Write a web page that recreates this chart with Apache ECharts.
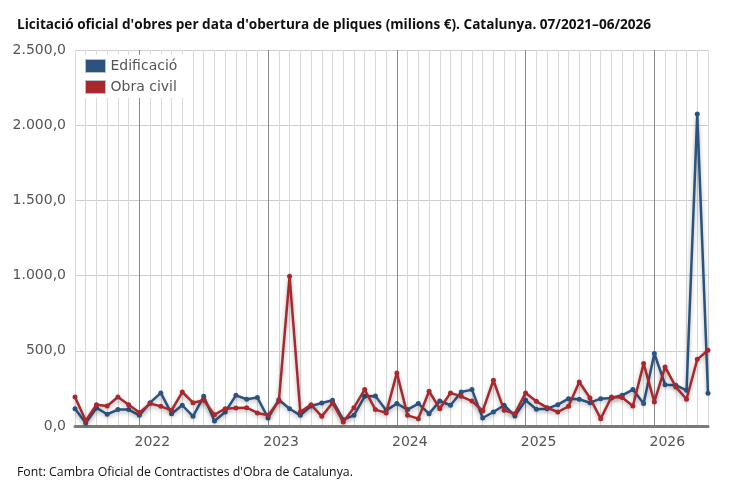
<!DOCTYPE html>
<html>
<head>
<meta charset="utf-8">
<script src="https://cdn.jsdelivr.net/npm/echarts@6/dist/echarts.min.js"></script>
<style>
  html, body { margin: 0; padding: 0; background: #fff; }
  #chart-container { width: 750px; height: 498px; }
</style>
</head>
<body>
<div id="chart-container"></div>
<script>
// mesos 07/2021 - 06/2026
const months = [
  "07/2021","08/2021","09/2021","10/2021","11/2021","12/2021",
  "01/2022","02/2022","03/2022","04/2022","05/2022","06/2022","07/2022","08/2022","09/2022","10/2022","11/2022","12/2022",
  "01/2023","02/2023","03/2023","04/2023","05/2023","06/2023","07/2023","08/2023","09/2023","10/2023","11/2023","12/2023",
  "01/2024","02/2024","03/2024","04/2024","05/2024","06/2024","07/2024","08/2024","09/2024","10/2024","11/2024","12/2024",
  "01/2025","02/2025","03/2025","04/2025","05/2025","06/2025","07/2025","08/2025","09/2025","10/2025","11/2025","12/2025",
  "01/2026","02/2026","03/2026","04/2026","05/2026","06/2026"
];

const edificacio = [
  115, 20, 120, 78, 109, 109,
  71, 155, 220, 82, 138, 64, 197, 33, 93, 204, 178, 189,
  53, 175, 115, 71, 133, 153, 171, 42, 71, 197, 200, 104,
  149, 109, 149, 82, 166, 138, 226, 242, 53, 93, 138, 67,
  171, 111, 115, 142, 182, 178, 155, 182, 186, 204, 242, 149,
  482, 275, 271, 237, 2075, 218
];

const obraCivil = [
  193, 35, 142, 133, 193, 142,
  89, 149, 131, 104, 226, 155, 171, 75, 115, 120, 122, 87,
  71, 164, 995, 93, 142, 64, 153, 27, 122, 242, 109, 87,
  353, 71, 49, 231, 115, 220, 197, 166, 100, 304, 104, 82,
  220, 164, 122, 93, 131, 293, 186, 49, 193, 189, 133, 415,
  160, 393, 260, 178, 443, 504
];

const yTicks = [0, 500, 1000, 1500, 2000, 2500];

const chart = echarts.init(document.getElementById("chart-container"));

function fmt(v) {
  // format català: 2.500,0
  const s = Math.round(v).toString().replace(/\B(?=(\d{3})+(?!\d))/g, ".");
  return s + ",0";
}

// línies verticals: gris clar cada mes, més fosc al gener
const monthColors = [];
for (let k = 0; k < 12; k++) monthColors.push(k === 6 ? "#8a8a8a" : "#d9d9d9");

const lineShadow = {
  shadowColor: "rgba(0,0,0,0.3)",
  shadowBlur: 4,
  shadowOffsetY: 2,
};

const option = {
  animation: false,
  backgroundColor: "#fff",
  title: [
    {
      text: "Licitació oficial d'obres per data d'obertura de pliques (milions €). Catalunya. 07/2021–06/2026",
      left: 12,
      top: 13,
      textStyle: { fontFamily: "Open Sans", fontWeight: "bold", fontSize: 13.6, color: "#111" },
    },
    {
      text: "Font: Cambra Oficial de Contractistes d'Obra de Catalunya.",
      left: 12,
      top: 461,
      textStyle: { fontFamily: "Open Sans", fontWeight: "normal", fontSize: 12.3, color: "#111" },
    },
  ],
  legend: {
    left: 80,
    top: 55,
    orient: "vertical",
    itemWidth: 20,
    itemHeight: 13,
    itemGap: 7,
    padding: [4, 6, 4, 5],
    backgroundColor: "#fff",
    icon: "rect",
    itemStyle: { borderColor: "#bdbdbd", borderWidth: 1 },
    textStyle: { fontFamily: "DejaVu Sans", fontSize: 14, color: "#555" },
    data: ["Edificació", "Obra civil"],
  },
  grid: { left: 75, right: 42, top: 50, bottom: 72 },
  xAxis: {
    type: "category",
    data: months,
    boundaryGap: false,
    axisLine: { show: true, lineStyle: { color: "#7a7a7a", width: 3 } },
    axisTick: { show: false },
    axisLabel: {
      interval: (i) => i % 12 === 6,
      formatter: (v) => v.slice(3),
      fontFamily: "DejaVu Sans",
      fontSize: 14,
      color: "#555",
      margin: 9,
      padding: [0, 0, 0, 26],
    },
    splitLine: { show: true, interval: 0, lineStyle: { color: monthColors, width: 1 } },
  },
  yAxis: {
    type: "value",
    min: yTicks[0],
    max: yTicks[yTicks.length - 1],
    interval: 500,
    axisLine: { show: false },
    axisTick: { show: false },
    axisLabel: {
      formatter: fmt,
      fontFamily: "DejaVu Sans",
      fontSize: 14,
      color: "#555",
      margin: 9,
    },
    splitLine: { lineStyle: { color: "#cfcfcf", width: 1 } },
  },
  series: [
    {
      name: "Edificació",
      type: "line",
      data: edificacio,
      symbol: "circle",
      symbolSize: 5,
      color: "#2b5380",
      lineStyle: Object.assign({ width: 2.5, color: "#2b5380" }, lineShadow),
      itemStyle: { color: "#2b5380" },
      z: 3,
    },
    {
      name: "Obra civil",
      type: "line",
      data: obraCivil,
      symbol: "circle",
      symbolSize: 5,
      color: "#a8282d",
      lineStyle: Object.assign({ width: 2.5, color: "#a8282d" }, lineShadow),
      itemStyle: { color: "#a8282d" },
      z: 4,
    },
  ],
};

chart.setOption(option);
</script>
</body>
</html>
